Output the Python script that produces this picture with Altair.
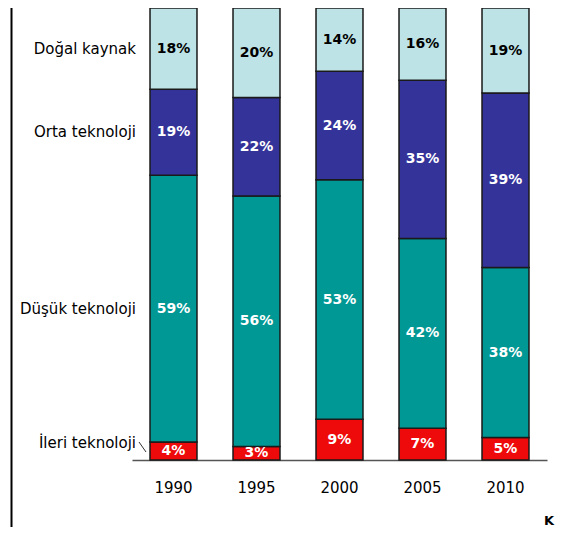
import altair as alt
import pandas as pd

years = ["1990", "1995", "2000", "2005", "2010"]
categories = ["İleri teknoloji", "Düşük teknoloji", "Orta teknoloji", "Doğal kaynak"]  # bottom -> top
ileri = [4, 3, 9, 7, 5]
dusuk = [59, 56, 53, 42, 38]
orta = [19, 22, 24, 35, 39]
dogal = [18, 20, 14, 16, 19]
colors = ["#ee0a0a", "#009894", "#343399", "#bde3e6"]

series = [ileri, dusuk, orta, dogal]
rows = []
for ci, (cat, vals) in enumerate(zip(categories, series)):
    for y, v in zip(years, vals):
        rows.append({"year": y, "cat": cat, "order": ci, "value": v})
df = pd.DataFrame(rows)

FONT = "DejaVu Sans"

base = (
    alt.Chart(df)
    .transform_joinaggregate(total="sum(value)", groupby=["year"])
    .transform_calculate(frac="datum.value / datum.total")
    .transform_window(cum="sum(frac)", groupby=["year"], sort=[alt.SortField("order")], frame=[None, 0])
    .transform_calculate(
        y0="datum.cum - datum.frac",
        ymid="datum.cum - datum.frac / 2",
        label='datum.value + "%"',
        ylab="datum.cat == 'İleri teknoloji' ? datum.cum - datum.frac / 2 + 0.018 : datum.cum - datum.frac / 2",
    )
)

xenc = alt.X(
    "year:N",
    sort=years,
    scale=alt.Scale(paddingInner=0.434, paddingOuter=0.217),
    axis=alt.Axis(
        title=None, ticks=False, labelAngle=0, labelFont=FONT, labelFontSize=15,
        labelColor="black", labelPadding=20, domainColor="#555555", domainWidth=1.5,
    ),
)
yscale = alt.Scale(domain=[0, 1])

bars = base.mark_bar(stroke="#1a1a1a", strokeWidth=1.5).encode(
    x=xenc,
    y=alt.Y("y0:Q", scale=yscale, axis=None),
    y2="cum:Q",
    color=alt.Color("cat:N", scale=alt.Scale(domain=categories, range=colors), legend=None),
)

pct = base.mark_text(font=FONT, fontSize=14, fontWeight="bold").encode(
    x=xenc,
    y=alt.Y("ymid:Q", scale=yscale, axis=None),
    text="label:N",
    color=alt.condition(alt.datum.cat == "Doğal kaynak", alt.value("black"), alt.value("white")),
)

leftlab = base.transform_filter(alt.datum.year == "1990").mark_text(
    font=FONT, fontSize=15, align="right", color="black"
).encode(
    x=alt.value(4),
    y=alt.Y("ylab:Q", scale=yscale, axis=None),
    text="cat:N",
)

slash = alt.Chart(pd.DataFrame({"a": [0]})).mark_rule(color="#333333", strokeWidth=1).encode(
    x=alt.value(7), x2=alt.value(14), y=alt.value(434), y2=alt.value(444)
)

vline = alt.Chart(pd.DataFrame({"a": [0]})).mark_rule(color="black", strokeWidth=2).encode(
    x=alt.value(-120.5), y=alt.value(-8), y2=alt.value(530)
)

kmark = alt.Chart(pd.DataFrame({"t": ["K"]})).mark_text(
    font=FONT, fontSize=13, fontWeight="bold", baseline="alphabetic", align="center", color="black"
).encode(x=alt.value(417), y=alt.value(517), text="t:N")

chart = (
    alt.layer(vline, bars, pct, leftlab, slash, kmark)
    .properties(
        width=415, height=452,
        autosize=alt.AutoSizeParams(type="none"),
        padding={"left": 124, "top": 0, "right": 8, "bottom": 67},
        background="white",
    )
    .configure_view(stroke=None)
)

chart.save("out.html", embed_options={"renderer": "svg", "actions": False})
